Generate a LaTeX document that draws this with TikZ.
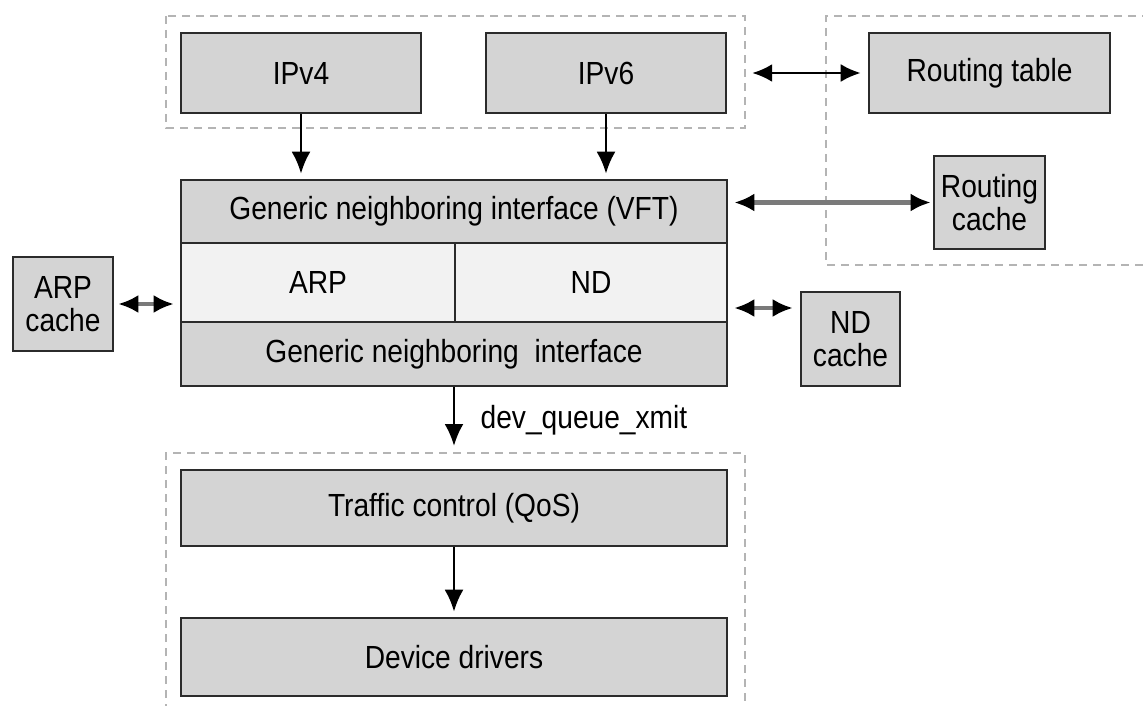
\documentclass[tikz,border=0pt]{standalone}
\usepackage{fontspec}
\setmainfont{Liberation Sans}[FakeStretch=0.88]
\usetikzlibrary{arrows.meta}
\definecolor{boxfill}{HTML}{D4D4D4}
\definecolor{rowfill}{HTML}{F2F2F2}
\definecolor{boxedge}{HTML}{2B2B2B}
\definecolor{grpedge}{HTML}{B4B4B4}
\definecolor{linkgray}{HTML}{7A7A7A}

\begin{document}
\begin{tikzpicture}[x=1pt,y=-1pt,
  layer/.style={draw=boxedge,line width=2.6pt,fill=boxfill,inner sep=0pt,
    align=center,font=\fontsize{32}{33}\selectfont},
  group/.style={draw=grpedge,line width=1.6pt,dash pattern=on 8pt off 6pt},
  flow/.style={line width=2.6pt,-{Latex[length=22pt,width=19pt]}},
  both/.style={line width=2.6pt,{Latex[length=20pt,width=18pt,color=black]}-{Latex[length=20pt,width=18pt,color=black]}}]
\useasboundingbox (0,0) rectangle (1143,706);

% groups
\draw[group] (166,16) rectangle (745,128);
\node (l3grp) at (455.5,72) [minimum width=579pt,minimum height=112pt,inner sep=0pt] {};
\draw[group] (1150,16) -- (826,16) -- (826,265) -- (1150,265);
\draw[group] (166,712) -- (166,453) -- (745,453) -- (745,712);
\coordinate (txtop) at (455.5,453);

% protocols
\node[layer,minimum width=240pt,minimum height=80pt] (ipv4) at (301,73) {IPv4};
\node[layer,minimum width=240pt,minimum height=80pt] (ipv6) at (606,73) {IPv6};
\node[layer,minimum width=241pt,minimum height=80pt] (rtable) at (989.5,73) {Routing table};
\node[layer,minimum width=111pt,minimum height=93pt] (rcache) at (989.5,202.5) {Routing\\cache};

% neighboring subsystem
\node[layer,minimum width=546pt,minimum height=63pt] (vft) at (454,211.5) {Generic neighboring interface (VFT)};
\node[layer,fill=rowfill,minimum width=274pt,minimum height=79pt] (arp) at (318,282.5) {ARP};
\node[layer,fill=rowfill,minimum width=272pt,minimum height=79pt] (nd) at (591,282.5) {ND};
\node[layer,minimum width=546pt,minimum height=64pt] (gni) at (454,354) {Generic neighboring\ \ interface};
\node[layer,minimum width=100pt,minimum height=94pt] (arpc) at (63,304) {ARP\\cache};
\node[layer,minimum width=99pt,minimum height=94pt] (ndc) at (850.5,339) {ND\\cache};

% output
\node[layer,minimum width=546pt,minimum height=76pt] (qos) at (454,508) {Traffic control (QoS)};
\node[layer,minimum width=546pt,minimum height=78pt] (drv) at (454,657) {Device drivers};

\draw[flow,shorten >=5pt] (ipv4.south) -- (ipv4.south |- vft.north);
\draw[flow,shorten >=5pt] (ipv6.south) -- (ipv6.south |- vft.north);
\draw[both,shorten <=7pt,shorten >=7pt] (l3grp.east |- rtable) -- (rtable.west);
\draw[both,line width=4.5pt,draw=linkgray,shorten <=6pt,shorten >=2pt] (vft.east |- rcache) -- (rcache.west);
\draw[both,line width=3.5pt,draw=linkgray,shorten <=4pt,shorten >=6pt] (arpc.east) -- (arpc.east -| arp.west);
\coordinate (ndlink) at ([yshift=31pt]ndc.west);
\draw[both,line width=3.5pt,draw=linkgray,shorten <=6pt,shorten >=7pt] (nd.east |- ndlink) -- (ndlink);
\draw[flow,shorten >=7pt] (gni.south) -- (gni.south |- txtop)
  node[midway,right=22pt,font=\fontsize{32}{33}\selectfont] {dev\_queue\_xmit};
\draw[flow,shorten >=5pt] (qos.south) -- (drv.north);
\end{tikzpicture}
\end{document}
